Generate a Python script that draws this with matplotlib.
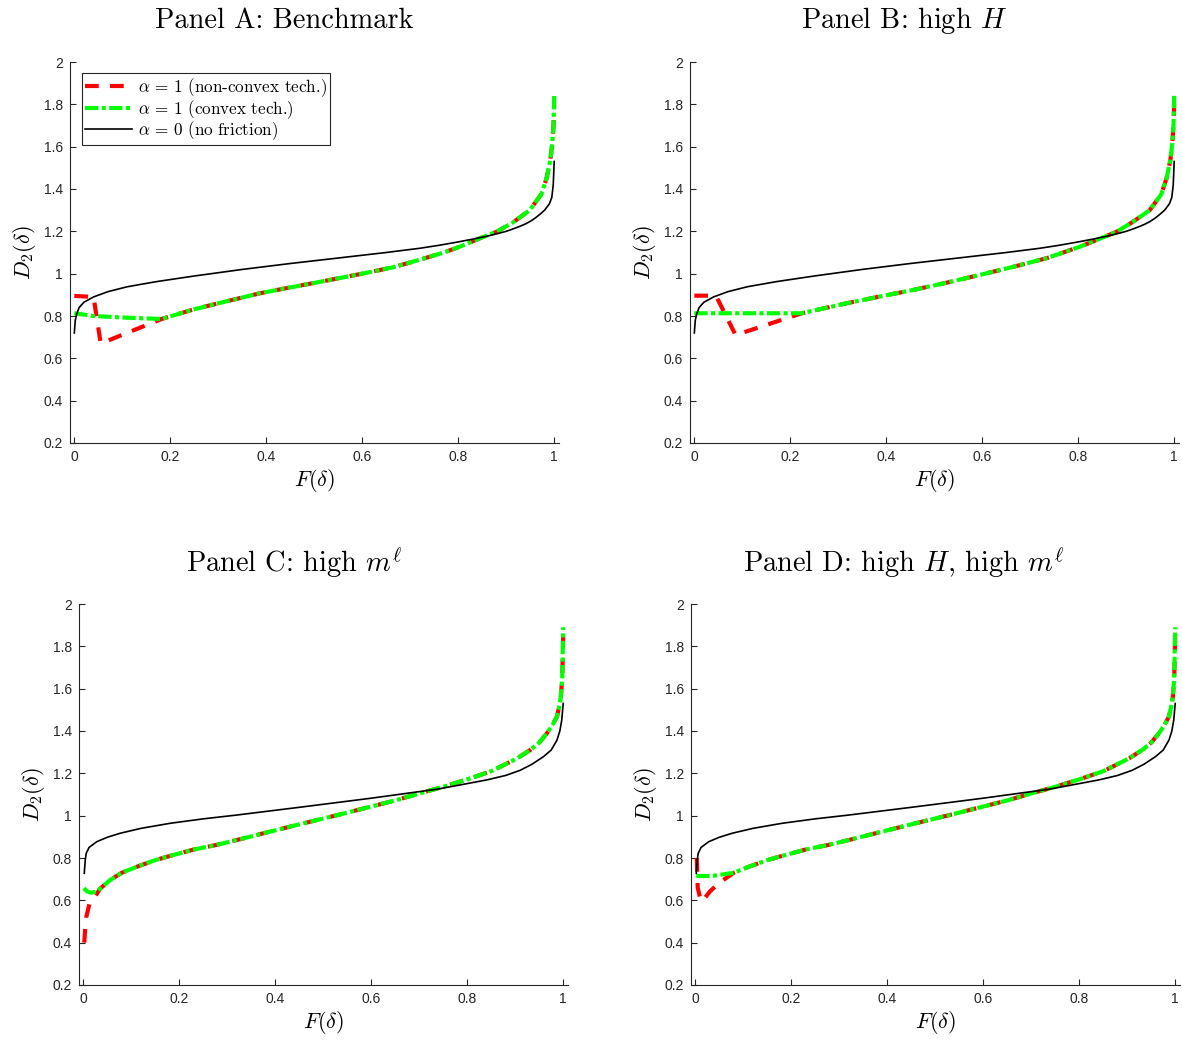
import matplotlib
matplotlib.use("Agg")
import matplotlib.pyplot as plt
import numpy as np

plt.rcParams['mathtext.fontset'] = 'cm'
plt.rcParams['font.family'] = ['Liberation Sans', 'DejaVu Sans']

# ---------------- data ----------------
x_ticks = [0, 0.2, 0.4, 0.6, 0.8, 1]
x_tick_labels = ['0', '0.2', '0.4', '0.6', '0.8', '1']
y_ticks = [0.2, 0.4, 0.6, 0.8, 1.0, 1.2, 1.4, 1.6, 1.8, 2.0]
y_tick_labels = ['0.2', '0.4', '0.6', '0.8', '1', '1.2', '1.4', '1.6', '1.8', '2']

titles = ['Panel A: Benchmark', r'Panel B: high $H$',
          r'Panel C: high $m^{\ell}$', r'Panel D: high $H$, high $m^{\ell}$']
legend_labels = [r'$\alpha\,=\,1$ (non-convex tech.)',
                 r'$\alpha\,=\,1$ (convex tech.)',
                 r'$\alpha\,=\,0$ (no friction)']

# no-friction curve (alpha = 0), panels A and B
AB_nofric_F = [0, 0.002, 0.005, 0.01, 0.02, 0.04, 0.07, 0.11, 0.17, 0.25, 0.35, 0.45,
               0.55, 0.65, 0.72, 0.76, 0.80, 0.83, 0.86, 0.88, 0.90, 0.915, 0.93, 0.94,
               0.95, 0.96, 0.97, 0.98, 0.99, 0.995, 0.998, 1.0]
AB_nofric_D = [0.72, 0.78, 0.81, 0.84, 0.865, 0.89, 0.915, 0.938, 0.962, 0.989, 1.02, 1.048,
               1.074, 1.10, 1.12, 1.134, 1.15, 1.163, 1.177, 1.188, 1.20, 1.212, 1.225, 1.235,
               1.247, 1.262, 1.28, 1.30, 1.33, 1.36, 1.42, 1.53]

# no-friction curve, panels C and D
CD_nofric_F = [0.002, 0.004, 0.006, 0.012, 0.028, 0.05, 0.077, 0.12, 0.181, 0.25, 0.32,
               0.459, 0.598, 0.737, 0.78, 0.841, 0.88, 0.91, 0.935, 0.959, 0.975, 0.987,
               0.993, 0.997, 1.0]
CD_nofric_D = [0.728, 0.79, 0.822, 0.85, 0.877, 0.898, 0.917, 0.94, 0.964, 0.985, 1.003,
               1.042, 1.082, 1.125, 1.143, 1.169, 1.19, 1.214, 1.243, 1.279, 1.31, 1.357,
               1.40, 1.452, 1.53]

# common upper branch of the alpha = 1 curves
A_main_F = [0.182, 0.25, 0.3, 0.386, 0.45, 0.525, 0.6, 0.664, 0.72, 0.77, 0.803, 0.845,
            0.88, 0.914, 0.949, 0.973, 0.984, 0.992, 0.996, 0.9985, 1.0]
A_main_D = [0.786, 0.832, 0.86, 0.907, 0.935, 0.967, 1.0, 1.03, 1.066, 1.10, 1.127, 1.167,
            1.198, 1.242, 1.30, 1.375, 1.45, 1.537, 1.616, 1.70, 1.84]

B_main_F = [0.224, 0.317, 0.4, 0.456, 0.525, 0.595, 0.664, 0.734, 0.803, 0.845, 0.88,
            0.914, 0.949, 0.973, 0.984, 0.992, 0.996, 0.9985, 1.0]
B_main_D = [0.813, 0.86, 0.898, 0.923, 0.957, 0.994, 1.032, 1.073, 1.127, 1.165, 1.198,
            1.245, 1.30, 1.375, 1.45, 1.537, 1.616, 1.70, 1.84]

CD_main_F = [0.035, 0.056, 0.08, 0.112, 0.15, 0.181, 0.23, 0.278, 0.32, 0.39, 0.459, 0.53,
             0.598, 0.65, 0.702, 0.751, 0.806, 0.85, 0.876, 0.905, 0.931, 0.95, 0.966,
             0.978, 0.987, 0.992, 0.995, 0.998, 1.0]
CD_main_D = [0.655, 0.696, 0.73, 0.759, 0.79, 0.81, 0.84, 0.862, 0.885, 0.925, 0.964, 1.003,
             1.042, 1.072, 1.106, 1.137, 1.176, 1.21, 1.239, 1.272, 1.31, 1.345, 1.389,
             1.43, 1.468, 1.52, 1.56, 1.65, 1.89]

# lower (panel-specific) branches
A_nonconvex_F = [0, 0.04, 0.055]
A_nonconvex_D = [0.895, 0.89, 0.67]
A_convex_F = [0, 0.04, 0.11]
A_convex_D = [0.813, 0.80, 0.792]

B_nonconvex_F = [0, 0.045, 0.086]
B_nonconvex_D = [0.896, 0.896, 0.71]
B_convex_F = [0, 0.1]
B_convex_D = [0.813, 0.813]

C_nonconvex_F = [0.002, 0.004, 0.006, 0.013, 0.025]
C_nonconvex_D = [0.40, 0.47, 0.52, 0.586, 0.62]
C_convex_F = [0.001, 0.008, 0.016, 0.028]
C_convex_D = [0.657, 0.642, 0.636, 0.641]

D_nonconvex_F = [0.003, 0.005, 0.01, 0.014, 0.03, 0.05]
D_nonconvex_D = [0.80, 0.66, 0.61, 0.594, 0.641, 0.683]
D_convex_F = [0.002, 0.035]
D_convex_D = [0.715, 0.715]

# end values of the non-convex curve (slightly below the convex one)
nonconvex_end_D = [1.80, 1.80, 1.85, 1.86]


def join(lowF, lowD, mainF, mainD, endD=None):
    F = list(lowF) + list(mainF)
    D = list(lowD) + list(mainD)
    if endD is not None:
        D[-1] = endD
    return F, D


panels = [
    (join(A_nonconvex_F, A_nonconvex_D, A_main_F, A_main_D, nonconvex_end_D[0]),
     join(A_convex_F, A_convex_D, A_main_F, A_main_D),
     (AB_nofric_F, AB_nofric_D)),
    (join(B_nonconvex_F, B_nonconvex_D, B_main_F, B_main_D, nonconvex_end_D[1]),
     join(B_convex_F, B_convex_D, B_main_F, B_main_D),
     (AB_nofric_F, AB_nofric_D)),
    (join(C_nonconvex_F, C_nonconvex_D, CD_main_F, CD_main_D, nonconvex_end_D[2]),
     join(C_convex_F, C_convex_D, CD_main_F, CD_main_D),
     (CD_nofric_F, CD_nofric_D)),
    (join(D_nonconvex_F, D_nonconvex_D, CD_main_F[2:], CD_main_D[2:], nonconvex_end_D[3]),
     join(D_convex_F, D_convex_D, CD_main_F[2:], CD_main_D[2:]),
     (CD_nofric_F, CD_nofric_D)),
]

# ---------------- layout ----------------
W, H = 1182, 1040
fig = plt.figure(figsize=(W / 100, H / 100), dpi=100)

# axes boxes in pixels: left, top, right, bottom
boxes = [(70, 62, 559, 443), (690, 62, 1179, 443),
         (79, 604, 568, 985), (691, 604, 1180, 985)]
title_centers = [(284, 21), (904, 21), (294, 563), (904, 563)]

axcol = '#262626'
for i, (box, (nc, cv, nf)) in enumerate(zip(boxes, panels)):
    l, t, r, b = box
    ax = fig.add_axes([l / W, 1 - b / H, (r - l) / W, (b - t) / H])
    ax.plot(nc[0], nc[1], color='#ff0000', lw=3.0, linestyle=(0, (3.3, 2.7)),
            solid_capstyle='butt', dash_capstyle='butt', label=legend_labels[0])
    ax.plot(cv[0], cv[1], color='#00ff00', lw=3.0, linestyle=(0, (3.2, 0.8, 1.0, 0.8)),
            dash_capstyle='butt', label=legend_labels[1])
    ax.plot(nf[0], nf[1], color='black', lw=1.2, label=legend_labels[2])

    ax.set_xlim(-0.009, 1.01)
    ax.set_ylim(0.2, 2.0)
    ax.set_xticks(x_ticks)
    ax.set_xticklabels(x_tick_labels)
    ax.set_yticks(y_ticks)
    ax.set_yticklabels(y_tick_labels)
    for s in ['top', 'right']:
        ax.spines[s].set_visible(False)
    for s in ['left', 'bottom']:
        ax.spines[s].set_color(axcol)
        ax.spines[s].set_linewidth(0.8)
    ax.tick_params(direction='in', length=4, width=0.8, colors=axcol,
                   labelsize=10, pad=5)
    ax.set_xlabel(r'$F(\delta)$', fontsize=16, labelpad=2)
    ax.set_ylabel(r'$D_2(\delta)$', fontsize=16, labelpad=4)

    cx, cy = title_centers[i]
    fig.text(cx / W, 1 - cy / H, titles[i], fontsize=20.4, family='cmr10',
             ha='center', va='center')

    if i == 0:
        leg = ax.legend(loc='upper left', bbox_to_anchor=(0.0245, 0.971),
                        borderaxespad=0, prop={'family': 'cmr10', 'size': 12.3},
                        handlelength=2.75, handletextpad=0.3, borderpad=0.2,
                        labelspacing=-0.08, fancybox=False, framealpha=1,
                        edgecolor=axcol)
        leg.get_frame().set_linewidth(0.8)

fig.savefig('out.png', dpi=100)
